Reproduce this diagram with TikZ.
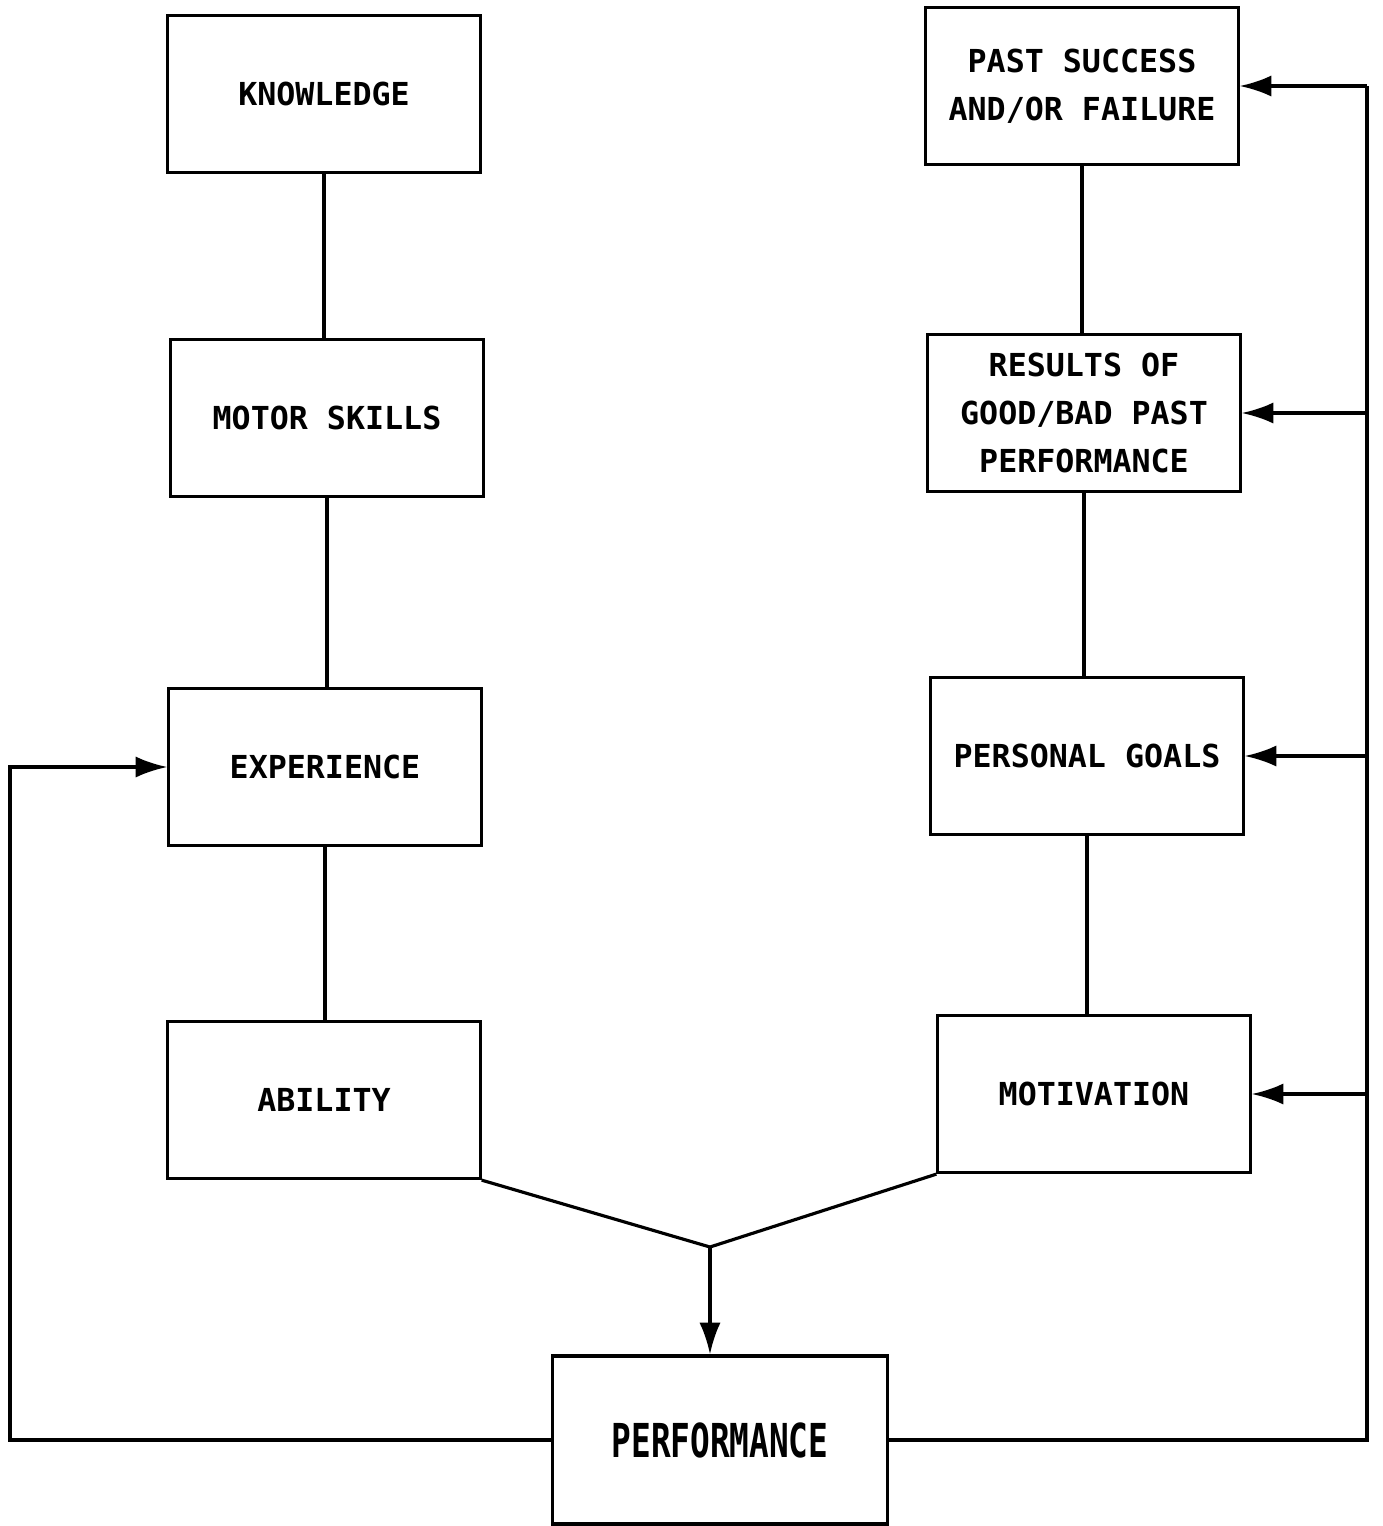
\documentclass[tikz,border=0pt]{standalone}
\usepackage{fontspec}
\usepackage{tikz}
\usetikzlibrary{arrows.meta}
\newfontfamily\boxfont{DejaVu Sans Mono}
\newfontfamily\perffont[FakeStretch=0.7]{DejaVu Sans Mono}

\begin{document}
\begin{tikzpicture}[x=0.01cm, y=-0.01cm, line width=0.9pt,
      factor/.style={draw, minimum width=3.12cm, minimum height=1.57cm,
        align=center, font=\boxfont\bfseries\fontsize{9}{13.7}\selectfont},
      result/.style={draw, minimum width=3.34cm, minimum height=1.68cm,
        font=\perffont\bfseries\fontsize{13.3}{16}\selectfont},
      feed/.style={-{Latex[length=9pt, width=6pt]}}]
      \useasboundingbox (0, 0) rectangle (1383, 1526);
      \node[factor] (know) at (324, 94) {KNOWLEDGE};
      \node[factor] (motor) at (327, 418) {MOTOR SKILLS};
      \node[factor] (exper) at (325, 767) {EXPERIENCE};
      \node[factor] (abil) at (324, 1100) {ABILITY};
      \node[factor] (past) at (1082, 86) {PAST SUCCESS\\AND/OR FAILURE};
      \node[factor] (outcome) at (1084, 413) {RESULTS OF\\GOOD/BAD PAST\\PERFORMANCE};
      \node[factor] (goals) at (1087, 756) {PERSONAL GOALS};
      \node[factor] (motiv) at (1094, 1094) {MOTIVATION};
      \node[result] (perf) at (720, 1440) {PERFORMANCE};
      \coordinate (join) at (710, 1247);
      \coordinate (lbend) at (10, 1446);
      \coordinate (rtop) at (1367, 86);
      % the two chains
      \draw (know.south) -- (know.south |- motor.north);
      \draw (motor.south) -- (motor.south |- exper.north);
      \draw (exper.south) -- (exper.south |- abil.north);
      \draw (past.south) -- (past.south |- outcome.north);
      \draw (outcome.south) -- (outcome.south |- goals.north);
      \draw (goals.south) -- (goals.south |- motiv.north);
      \draw (abil.south east) -- (join) -- (motiv.south west);
      \draw[feed] (join) -- (join |- perf.north);
      % feedback loops
      \draw[feed] (perf.west) -- (perf.west -| lbend) |- (exper.west);
      \draw (perf.east) -| (rtop);
      \draw[feed] (rtop) -- (past.east);
      \draw[feed] (rtop |- outcome.east) -- (outcome.east);
      \draw[feed] (rtop |- goals.east) -- (goals.east);
      \draw[feed] (rtop |- motiv.east) -- (motiv.east);
    \end{tikzpicture}
\end{document}
